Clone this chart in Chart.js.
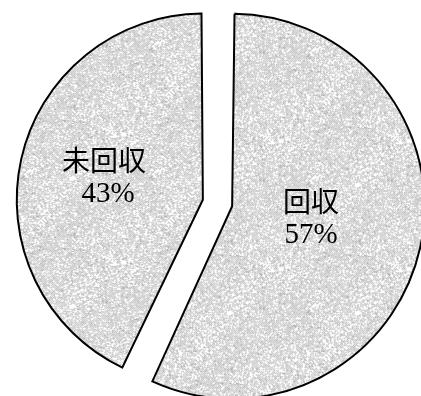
<!DOCTYPE html>
<html>
<head>
<meta charset="utf-8">
<script src="https://cdn.jsdelivr.net/npm/chart.js@4.4.0/dist/chart.umd.min.js"></script>
<style>
  html, body { margin: 0; padding: 0; background: #fff; }
</style>
</head>
<body>
<canvas id="pie" width="421" height="396"></canvas>
<script>
const sliceNames = ['回収', '未回収'];
const sliceShares = [57, 43];

// where each slice's caption sits: fraction of radius out, and degrees off the bisector
const captionDepth = [0.45, 0.57];
const captionTurn = [-4, 0];

// grainy halftone gray used for both slices
function makeGrain() {
    const size = 128;
    const c = document.createElement('canvas');
    c.width = size;
    c.height = size;
    const g = c.getContext('2d');
    const img = g.createImageData(size, size);
    let seed = 20240611;
    const rnd = () => {
        seed = (seed * 1103515245 + 12345) & 0x7fffffff;
        return seed / 0x7fffffff;
    };
    for (let y = 0; y < size; y++) {
        for (let x = 0; x < size; x++) {
            // slow wobble so some patches look lighter than others
            const patch = 0.5 + 0.25 * Math.sin(x / 9) * Math.cos(y / 13) + 0.25 * Math.sin((x + y) / 17);
            let v;
            if ((x + y) % 2 === 0) {
                v = rnd() < 0.08 + 0.3 * patch ? 255 : 150 + rnd() * 50;
            } else {
                v = rnd() < 0.08 ? 185 + rnd() * 40 : 255;
            }
            const k = (y * size + x) * 4;
            img.data[k] = img.data[k + 1] = img.data[k + 2] = v;
            img.data[k + 3] = 255;
        }
    }
    g.putImageData(img, 0, 0);
    return g.createPattern(c, 'repeat');
}

const sliceCaptions = {
    id: 'sliceCaptions',
    afterDatasetsDraw(chart) {
        const ctx = chart.ctx;
        const meta = chart.getDatasetMeta(0);
        ctx.save();
        ctx.fillStyle = '#000';
        ctx.textAlign = 'center';
        ctx.textBaseline = 'middle';
        meta.data.forEach((arc, i) => {
            const p = arc.getProps(['x', 'y', 'startAngle', 'endAngle', 'outerRadius'], true);
            const mid = (p.startAngle + p.endAngle) / 2;
            const shift = arc.options.offset / 4;
            const sx = p.x + Math.cos(mid) * shift;
            const sy = p.y + Math.sin(mid) * shift;
            const dir = mid + captionTurn[i] * Math.PI / 180;
            const r = p.outerRadius * captionDepth[i];
            const cx = sx + Math.cos(dir) * r;
            const cy = sy + Math.sin(dir) * r;
            ctx.font = '28px "Noto Sans CJK JP"';
            ctx.fillText(sliceNames[i], cx, cy - 17);
            ctx.font = '29px "Liberation Serif"';
            ctx.fillText(sliceShares[i] + '%', cx + (i === 1 ? 4 : 0), cy + 17);
        });
        ctx.restore();
    }
};

const pieCtx = document.getElementById('pie').getContext('2d');
const grain = makeGrain();

new Chart(pieCtx, {
    type: 'pie',
    data: {
        labels: sliceNames,
        datasets: [
            {
                data: sliceShares,
                backgroundColor: grain,
                borderColor: '#000',
                borderWidth: 2,
                borderJoinStyle: 'miter',
                offset: 60,
                radius: 177.5
            }
        ]
    },
    options: {
        responsive: false,
        animation: false,
        layout: {
            padding: { left: 14, top: 10 }
        },
        plugins: {
            legend: { display: false },
            tooltip: { enabled: false }
        }
    },
    plugins: [sliceCaptions]
});
</script>
</body>
</html>
